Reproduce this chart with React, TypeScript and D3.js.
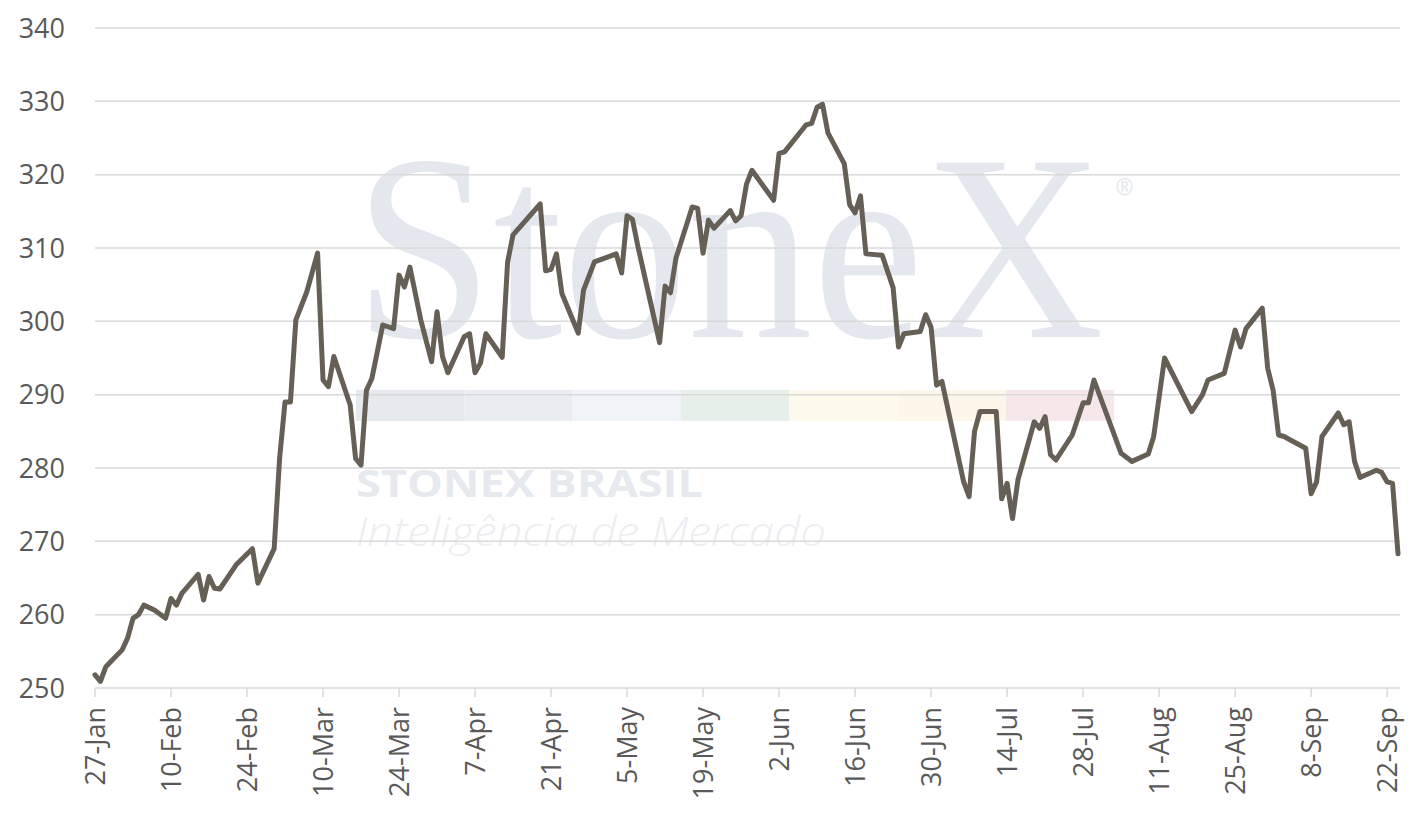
import * as d3 from "d3";

const dates = [
  "2025-01-27", "2025-01-28", "2025-01-29",
  "2025-02-01", "2025-02-02", "2025-02-03", "2025-02-04", "2025-02-05", "2025-02-07", "2025-02-09",
  "2025-02-10", "2025-02-11", "2025-02-12", "2025-02-15", "2025-02-16", "2025-02-17", "2025-02-18",
  "2025-02-19", "2025-02-22", "2025-02-25", "2025-02-26",
  "2025-03-01", "2025-03-02", "2025-03-03", "2025-03-04", "2025-03-05", "2025-03-07", "2025-03-09",
  "2025-03-10", "2025-03-11", "2025-03-12", "2025-03-15", "2025-03-16", "2025-03-17", "2025-03-18",
  "2025-03-19", "2025-03-21", "2025-03-23", "2025-03-24", "2025-03-25", "2025-03-26", "2025-03-28",
  "2025-03-30", "2025-03-31",
  "2025-04-01", "2025-04-02", "2025-04-05", "2025-04-06", "2025-04-07", "2025-04-08", "2025-04-09",
  "2025-04-12", "2025-04-13", "2025-04-14", "2025-04-19", "2025-04-20", "2025-04-21", "2025-04-22",
  "2025-04-23", "2025-04-26", "2025-04-27", "2025-04-29",
  "2025-05-03", "2025-05-04", "2025-05-05", "2025-05-06", "2025-05-07", "2025-05-11", "2025-05-12",
  "2025-05-13", "2025-05-14", "2025-05-17", "2025-05-18", "2025-05-19", "2025-05-20", "2025-05-21",
  "2025-05-24", "2025-05-25", "2025-05-26", "2025-05-27", "2025-05-28",
  "2025-06-01", "2025-06-02", "2025-06-03", "2025-06-07", "2025-06-08", "2025-06-09", "2025-06-10",
  "2025-06-11", "2025-06-14", "2025-06-15", "2025-06-16", "2025-06-17", "2025-06-18", "2025-06-21",
  "2025-06-23", "2025-06-24", "2025-06-25", "2025-06-28", "2025-06-29", "2025-06-30",
  "2025-07-01", "2025-07-02", "2025-07-06", "2025-07-07", "2025-07-08", "2025-07-09", "2025-07-12",
  "2025-07-13", "2025-07-14", "2025-07-15", "2025-07-16", "2025-07-19", "2025-07-20", "2025-07-21",
  "2025-07-22", "2025-07-23", "2025-07-26", "2025-07-28", "2025-07-29", "2025-07-30",
  "2025-08-04", "2025-08-06", "2025-08-09", "2025-08-10", "2025-08-12", "2025-08-17", "2025-08-19",
  "2025-08-20", "2025-08-23", "2025-08-25", "2025-08-26", "2025-08-27", "2025-08-30", "2025-08-31",
  "2025-09-01", "2025-09-02", "2025-09-03", "2025-09-07", "2025-09-08", "2025-09-09", "2025-09-10",
  "2025-09-13", "2025-09-14", "2025-09-15", "2025-09-16", "2025-09-17", "2025-09-20", "2025-09-21",
  "2025-09-22", "2025-09-23", "2025-09-24",
];

const values = [
  251.8, 250.9, 252.9,
  255.2, 256.8, 259.5, 260.0, 261.3, 260.6, 259.5, 262.2, 261.3, 262.9, 265.5, 262.0, 265.2, 263.6,
  263.5, 266.8, 269.0, 264.3,
  269.0, 281.3, 289.0, 289.0, 300.2, 304.0, 309.3, 292.0, 291.1, 295.2, 288.6, 281.3, 280.4, 290.6,
  292.2, 299.5, 299.0, 306.3, 304.7, 307.4, 300.2, 294.5, 301.3,
  295.2, 293.0, 297.9, 298.3, 293.0, 294.3, 298.3, 295.1, 308.1, 311.8, 316.0, 306.9, 307.1, 309.2,
  303.8, 298.4, 304.3, 308.1,
  309.2, 306.6, 314.4, 313.9, 310.2, 297.1, 304.8, 303.9, 308.6, 315.6, 315.4, 309.3, 313.8, 312.7,
  315.1, 313.7, 314.4, 318.7, 320.6,
  316.5, 322.9, 323.1, 326.8, 327.0, 329.2, 329.6, 325.7, 321.5, 315.9, 314.8, 317.1, 309.2, 309.0,
  304.6, 296.5, 298.3, 298.6, 300.9, 299.2,
  291.3, 291.8, 278.1, 276.1, 285.0, 287.7, 287.7, 275.8, 277.9, 273.1, 278.4, 286.3, 285.4, 287.0,
  281.8, 281.1, 284.5, 288.9, 288.9, 292.0,
  282.0, 280.9, 281.9, 284.3, 295.0, 287.7, 290.0, 292.0, 292.9, 298.8, 296.5, 299.0, 301.8, 293.6,
  290.6, 284.5, 284.3, 282.7, 276.5, 278.1, 284.3, 287.5, 285.9, 286.3, 280.9, 278.7, 279.7, 279.4,
  278.1, 277.9, 268.3,
];

const xTicks = [
  "2025-01-27", "2025-02-10", "2025-02-24", "2025-03-10", "2025-03-24", "2025-04-07",
  "2025-04-21", "2025-05-05", "2025-05-19", "2025-06-02", "2025-06-16", "2025-06-30",
  "2025-07-14", "2025-07-28", "2025-08-11", "2025-08-25", "2025-09-08", "2025-09-22",
];
const yTicks = [250, 260, 270, 280, 290, 300, 310, 320, 330, 340];

// watermark band colours
const bandColors = ["#e6e9ee", "#e9edf1", "#f0f4f8", "#e6efe9", "#fdf9ec", "#fdf6ea", "#f6e8ea"];

const W = 1424;
const H = 827;
const FONT = "'Open Sans', 'Noto Sans', sans-serif";

export default function App() {
  const parse = d3.utcParse("%Y-%m-%d");
  const fmt = d3.utcFormat("%-d-%b");
  const points = dates.map((d, i) => ({ date: parse(d) as Date, value: values[i] }));

  const x = d3
    .scaleUtc()
    .domain([parse("2025-01-27") as Date, parse("2025-09-24") as Date])
    .range([95, 1398]);
  const y = d3.scaleLinear().domain([250, 340]).range([688, 28]);

  const line = d3
    .line<{ date: Date; value: number }>()
    .x((d) => x(d.date))
    .y((d) => y(d.value));

  const bandX = d3.scaleLinear().domain([0, bandColors.length]).range([356, 1114]);

  return (
    <>
      <style>{"body{margin:0}"}</style>
      <svg width={W} height={H} style={{ display: "block", background: "#fff" }}>
        {/* watermark */}
        <g>
          <text
            transform="translate(354,337) scale(0.94,1)"
            fontFamily="'Liberation Serif', 'Times New Roman', serif"
            fontSize={266}
            fill="#e4e8ee"
          >
            StoneX
            <tspan fontFamily={FONT} fontSize={23} dx={12} dy={-142}>
              ®
            </tspan>
          </text>
          {bandColors.map((c, i) => (
            <rect key={c + i} x={bandX(i)} y={390} width={bandX(i + 1) - bandX(i)} height={31} fill={c} />
          ))}
          <text
            x={356}
            y={497}
            fontFamily={FONT}
            fontWeight={700}
            fontSize={38}
            fill="#e6e9ee"
            textLength={347}
            lengthAdjust="spacingAndGlyphs"
          >
            STONEX BRASIL
          </text>
          <text
            x={356}
            y={546}
            fontFamily={FONT}
            fontStyle="italic"
            fontWeight={300}
            fontSize={40}
            fill="#eceef2"
            textLength={470}
            lengthAdjust="spacingAndGlyphs"
          >
            Inteligência de Mercado
          </text>
        </g>

        {/* grid */}
        {yTicks.map((t) => (
          <line key={t} x1={95} x2={1400} y1={y(t)} y2={y(t)} stroke="#d9d9d9" strokeWidth={1.5} />
        ))}
        {yTicks.map((t) => (
          <text
            key={"l" + t}
            x={65}
            y={y(t)}
            dy="0.36em"
            textAnchor="end"
            fontFamily={FONT}
            fontSize={27}
            fill="#595959"
          >
            {t}
          </text>
        ))}

        {/* x axis ticks */}
        {xTicks.map((t) => {
          const px = x(parse(t) as Date);
          return (
            <g key={t}>
              <line x1={px} x2={px} y1={688} y2={697} stroke="#d9d9d9" strokeWidth={1.5} />
              <text
                transform={`translate(${px},707) rotate(-90)`}
                dy="0.36em"
                textAnchor="end"
                fontFamily={FONT}
                fontSize={27}
                fill="#595959"
              >
                {fmt(parse(t) as Date)}
              </text>
            </g>
          );
        })}

        <path
          d={line(points) ?? ""}
          fill="none"
          stroke="#655f55"
          strokeWidth={5}
          strokeLinejoin="round"
          strokeLinecap="round"
        />
      </svg>
    </>
  );
}
